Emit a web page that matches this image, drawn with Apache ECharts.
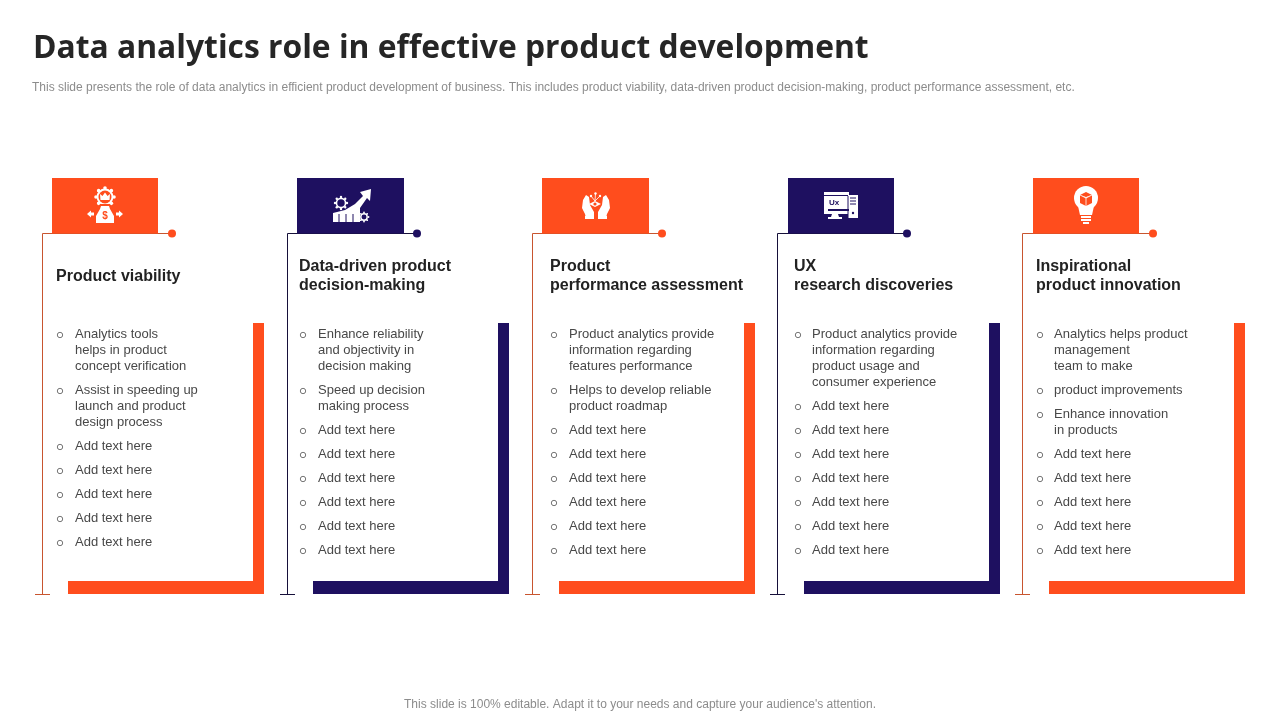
<!DOCTYPE html>
<html><head><meta charset="utf-8">
<style>html,body{margin:0;padding:0;background:#fff}#c{width:1280px;height:720px}</style>
<script src="https://cdn.jsdelivr.net/npm/echarts@6/dist/echarts.min.js"></script>
</head><body><div id="c"></div>
<script>
const pageTitle = 'Data analytics role in effective product development';
const pageSubtitle = 'This slide presents the role of data analytics in efficient product development of business. This includes product viability, data-driven product decision-making, product performance assessment, etc.';
const pageFooter = "This slide is 100% editable. Adapt it to your needs and capture your audience's attention.";
const headings = [
  ['Product viability'],
  ['Data-driven product', 'decision-making'],
  ['Product', 'performance assessment'],
  ['UX', 'research discoveries'],
  ['Inspirational', 'product innovation']
];
const add = ['Add text here'];
const bullets1 = [['Analytics tools','helps in product','concept verification'],['Assist in speeding up','launch and product','design process'],add,add,add,add,add];
const bullets2 = [['Enhance reliability','and objectivity in','decision making'],['Speed up decision','making process'],add,add,add,add,add,add];
const bullets3 = [['Product analytics provide','information regarding','features performance'],['Helps to develop reliable','product roadmap'],add,add,add,add,add,add];
const bullets4 = [['Product analytics provide','information regarding','product usage and','consumer experience'],add,add,add,add,add,add,add];
const bullets5 = [['Analytics helps product','management','team to make'],['product improvements'],['Enhance innovation','in products'],add,add,add,add,add];
const allBullets = [bullets1,bullets2,bullets3,bullets4,bullets5];

const ORANGE = '#FF4D1D', NAVY = '#1E1060';
const schemes = [ORANGE,NAVY,ORANGE,NAVY,ORANGE];
const thin = ['#C8552F','#16103A','#C8552F','#16103A','#C8552F'];
const lineLeft = [42,287,532,777,1022];
const tabLeft = [52,297,542,788,1033];
const tabWidth = [106,107,107,106,106];
const dotX = [172,417,662,907,1153];
const headX = [56,299,550,794,1036];
const bulletX = [60,303,554,798,1040];
const textX = [75,318,569,812,1054];
const barRight = [264,509,755,1000,1245];
const barLeft = [68,313,559,804,1049];

const els = [];
const rect = (x,y,w,h,fill)=>els.push({type:'rect',silent:true,shape:{x,y,width:w,height:h},style:{fill}});
const circ = (cx,cy,r,fill,stroke,lw)=>els.push({type:'circle',silent:true,shape:{cx,cy,r},style:{fill:fill||'none',stroke:stroke||null,lineWidth:lw||0}});
const poly = (points,fill)=>els.push({type:'polygon',silent:true,shape:{points},style:{fill}});
const line = (x1,y1,x2,y2,stroke,lw)=>els.push({type:'line',silent:true,shape:{x1,y1,x2,y2},style:{stroke,lineWidth:lw||1}});
const text = (t,x,y,font,fill,align)=>els.push({type:'text',silent:true,style:{text:t,x,y,font,fill,textAlign:align||'left',textVerticalAlign:'middle'}});

text(pageTitle,33,48.5,'bold 31.8px "Open Sans"','#262626');
text(pageSubtitle,32,88,'12px "Liberation Sans"','#8C8C8C');
text(pageFooter,640,705,'12px "Liberation Sans"','#8C8C8C','center');

function gear(cx,cy,r,col,hole){
  for(let i=0;i<8;i++){const a=i*Math.PI/4;circ(cx+Math.cos(a)*r,cy+Math.sin(a)*r,r*0.2,'#fff');}
  circ(cx,cy,r-0.6,'#fff'); circ(cx,cy,r*hole,col);
}
const icons = [
 (c)=>{ // gear, money bag and arrows
  gear(105,197,9,c,0.72);
  poly([[100.5,200],[100,194],[102.5,196],[105,192.5],[107.5,196],[110,194],[109.5,200]],'#fff');
  poly([[100,204],[110,204],[111,208],[115,216],[115,224],[95,224],[95,216],[99,208]],c);
  poly([[101,206],[109,206],[110,209],[114,216],[114,223],[96,223],[96,216],[100,209]],'#fff');
  text('$',105,216,'bold 10px "Liberation Sans"',c,'center');
  poly([[87,214],[91,210.5],[91,212.5],[94,212.5],[94,215.5],[91,215.5],[91,217.5]],'#fff');
  poly([[123,214],[119,210.5],[119,212.5],[116,212.5],[116,215.5],[119,215.5],[119,217.5]],'#fff');
 },
 (c)=>{ // rising chart with gears
  poly([[333,222],[333,213],[345,210],[355,204],[363,196],[360,192],[371,189],[370,201],[367,198],[360,208],[360,222]],'#fff');
  [339,346,353].forEach(x=>line(x,214,x,222,c,1));
  gear(341,203,6,c,0.62); gear(364,217,4.5,c,0.55);
 },
 (c)=>{ // hands holding an idea
  poly([[586,195],[589,197],[590,205],[594,212],[594,218],[586,218],[585,214],[582,208],[583,200]],'#fff');
  poly([[606,195],[603,197],[602,205],[598,212],[598,218],[606,218],[607,214],[610,208],[609,200]],'#fff');
  rect(585,216,9,3,'#fff'); rect(598,216,9,3,'#fff');
  poly([[589,204],[595,201],[601,204],[595,207]],'#fff'); circ(595,204,1.6,c);
  [[591,196],[595.5,193.5],[600,196]].forEach(p=>{circ(p[0],p[1],1.2,'#fff');line(p[0],p[1],595,201,'#fff',0.8);});
 },
 (c)=>{ // UX screens
  rect(848,195,10,23,'#fff');
  rect(824,192,25,3,'#fff');
  rect(824,196,25,18,'#fff');
  rect(827,198,19,11,'#fff');
  rect(828,209,21,2,c);
  line(848,196,848,218,c,1);
  text('Ux',834,203,'bold 8px "Liberation Sans"',NAVY,'center');
  poly([[832,214],[838,214],[839,217],[842,217],[842,219],[828,219],[828,217],[831,217]],'#fff');
  [198,201,204].forEach(y=>line(850,y,856,y,c,1));
  circ(853,213,1.2,c);
 },
 (c)=>{ // light bulb with box
  circ(1086,198,12,'#fff');
  poly([[1078,206],[1094,206],[1092,215],[1080,215]],'#fff');
  poly([[1080,195],[1086,192],[1092,195],[1092,203],[1086,206],[1080,203]],c);
  poly([[1080,195],[1086,198],[1092,195],[1086,197]],'#fff');
  line(1086,198,1086,206,'#fff',0.8); line(1080,195,1086,198,'#fff',0.8); line(1092,195,1086,198,'#fff',0.8);
  rect(1081,216,10,2,'#fff'); rect(1081,219,10,2,'#fff'); rect(1083,222,6,2,'#fff');
 }
];

headings.forEach((h,i)=>{
  const col = schemes[i], tc = thin[i];
  line(lineLeft[i]+.5,233.5,dotX[i],233.5,tc,1);
  line(lineLeft[i]+.5,233.5,lineLeft[i]+.5,594.5,tc,1);
  line(lineLeft[i]-7,594.5,lineLeft[i]+8,594.5,tc,1);
  circ(dotX[i],233.5,4,col);
  rect(tabLeft[i],178,tabWidth[i],55.5,col);
  rect(barRight[i]-11,323,11,271,col);
  rect(barLeft[i],581,barRight[i]-barLeft[i],13,col);
  icons[i](col);
  const hy = h.length===1 ? [276.5] : [266.5,285.5];
  h.forEach((t,k)=>text(t,headX[i],hy[k],'bold 16px "Liberation Sans"','#222'));
  let y = 334;
  allBullets[i].forEach(item=>{
    circ(bulletX[i],y+1,2.7,'#fff','#666',0.9);
    item.forEach((t,k)=>text(t,textX[i],y+k*16+.5,'13px "Liberation Sans"','#484848'));
    y += item.length*16+8;
  });
});

const chart = echarts.init(document.getElementById('c'),null,{renderer:'canvas',width:1280,height:720});
chart.setOption({backgroundColor:'#fff',animation:false,graphic:{elements:els}});
</script></body></html>
